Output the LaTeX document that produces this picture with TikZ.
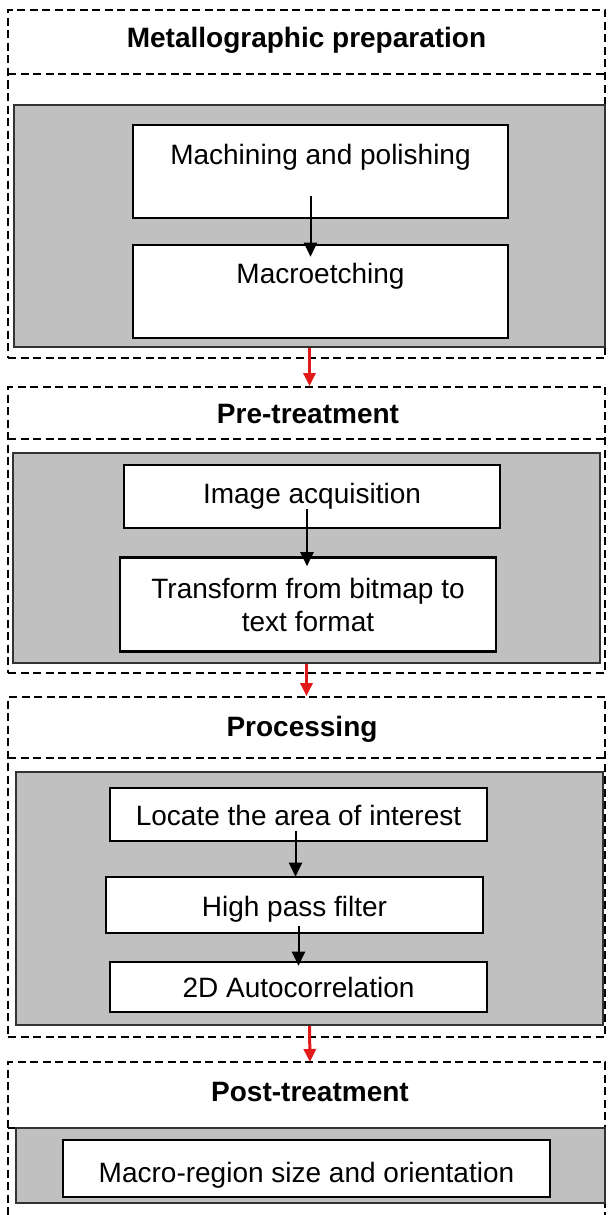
\documentclass[tikz,border=0pt]{standalone}
\usepackage{fontspec}
\setmainfont{Liberation Sans}
\usetikzlibrary{positioning,arrows.meta}
\definecolor{panelgray}{RGB}{192,192,192}
\definecolor{linkred}{RGB}{225,25,25}

\begin{document}
\begin{tikzpicture}[
	x=1pt, y=-1pt,
	frame/.style = {draw, line width=1.8pt, dash pattern=on 8pt off 4.5pt},
	panel/.style = {rectangle, draw=black!80, line width=2.4pt, fill=panelgray,
		inner sep=0pt},
	stepbox/.style = {rectangle, draw, line width=2.6pt, fill=white,
		inner sep=0pt, align=center,
		font=\fontsize{28}{33}\selectfont},
	stage/.style = {anchor=base, inner sep=0pt,
		font=\bfseries\fontsize{28}{33}\selectfont},
	flow/.style = {line width=2pt, -{Triangle[length=14pt,width=13pt]}},
	link/.style = {linkred, line width=3pt, -{Triangle[length=13pt,width=12pt]}},
	]
	\fill[white] (0,0) rectangle (609,1215);
	\useasboundingbox (0,0) rectangle (609,1215);

	% dashed stage frames
	\node[frame, minimum width=597pt, minimum height=348pt] (F1) at (306.5,184) {};
	\node[frame, minimum width=597pt, minimum height=286pt] (F2) at (306.5,530) {};
	\node[frame, minimum width=597pt, minimum height=340pt] (F3) at (306.5,867) {};
	\draw[frame] (8,1215) |- (605,1062) -- (605,1215);
	\coordinate (F4) at (310,1062);
	\draw[frame] (8,74) -- (605,74);
	\draw[frame] (8,439) -- (605,439);
	\draw[frame] (8,758) -- (605,758);
	\draw[frame] (8,1128) -- (605,1128);

	\node[stage] (T1) at (306.5,48) {Metallographic preparation};
	\node[stage] (T2) at (308,423) {Pre-treatment};
	\node[stage] (T3) at (302,736) {Processing};
	\node[stage] (T4) at (310,1101) {Post-treatment};

	% grey panels
	\node[panel, minimum width=591pt, minimum height=242pt] (G1) at (309.5,226) {};
	\node[panel, minimum width=587pt, minimum height=210pt] (G2) at (306.5,558) {};
	\node[panel, minimum width=587pt, minimum height=253pt] (G3) at (309.5,898.5) {};
	\node[panel, minimum width=589pt, minimum height=75pt] (G4) at (310.5,1165.5) {};

	\begin{scope}[every node/.append style={stepbox}]
	\node[minimum width=375pt, text height=39pt, text depth=54pt] (M1) at (320.5,171.5) {Machining and polishing};
	\node[minimum width=375pt, text height=38pt, text depth=55pt] (M2) at (320.5,291.5) {Macroetching};

	\node[minimum width=376pt, text height=38pt, text depth=25pt] (P1) at (312,496.5) {Image acquisition};
	\node[minimum width=376pt, minimum height=94pt] (P2) at (308,604.5) {Transform from bitmap to\\text format};

	\node[minimum width=377pt, text height=37pt, text depth=16pt] (Q1) at (298.5,814.5) {Locate the area of interest};
	\node[minimum width=377pt, text height=39pt, text depth=17pt] (Q2) at (294.5,905) {High pass filter};
	\node[minimum width=377pt, text height=35pt, text depth=15pt] (Q3) at (298.5,987) {2D Autocorrelation};

	\node[minimum width=487pt, text height=42pt, text depth=15pt] (R1) at (306.5,1168.5) {Macro-region size and orientation};
	\end{scope}

	\draw[flow] ([xshift=-10pt,yshift=23pt]M1.south) -- ([xshift=-10pt,yshift=-13pt]M2.north);
	\draw[flow] ([xshift=-5pt,yshift=20pt]P1.south) -- ([xshift=-1pt,yshift=-10pt]P2.north);
	\draw[flow] ([xshift=-3pt,yshift=11pt]Q1.south) -- ([xshift=1pt,yshift=-1pt]Q2.north);
	\draw[flow] ([xshift=4pt,yshift=8pt]Q2.south) -- ([yshift=-5pt]Q3.north);

	\draw[link] (G1.south) -- (G1.south |- F2.north);
	\draw[link] (G2.south) -- (G2.south |- F3.north);
	\draw[link] (G3.south) -- (F4);
\end{tikzpicture}
\end{document}
